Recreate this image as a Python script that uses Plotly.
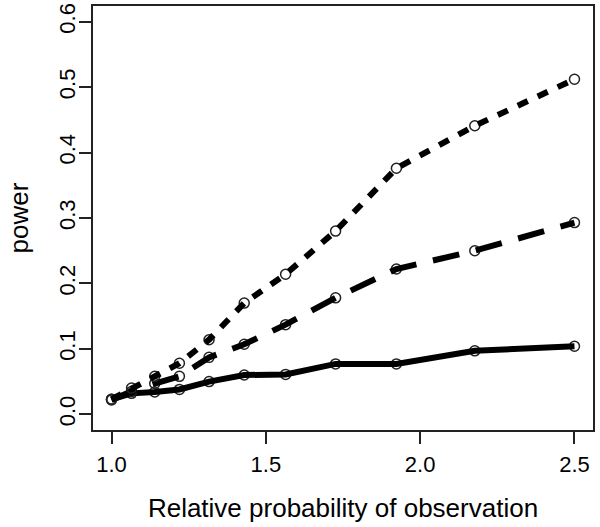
import plotly.graph_objects as go

rel_prob = [1.0, 1.065, 1.14, 1.22, 1.316, 1.43, 1.564, 1.726, 1.923, 2.177, 2.5]
power_solid = [0.023, 0.032, 0.034, 0.038, 0.05, 0.06, 0.061, 0.077, 0.077, 0.097, 0.104]
power_dashed = [0.022, 0.035, 0.047, 0.058, 0.087, 0.107, 0.137, 0.178, 0.222, 0.25, 0.293]
power_dotted = [0.023, 0.04, 0.058, 0.078, 0.114, 0.17, 0.214, 0.28, 0.376, 0.441, 0.512]

x_ticks = [1.0, 1.5, 2.0, 2.5]
x_tick_labels = ["1.0", "1.5", "2.0", "2.5"]
y_ticks = [0.0, 0.1, 0.2, 0.3, 0.4, 0.5, 0.6]
y_tick_labels = ["0.0", "0.1", "0.2", "0.3", "0.4", "0.5", "0.6"]

series = [
    (power_solid, "solid"),
    (power_dashed, "27px,17px"),
    (power_dotted, "11px,11px"),
]

fig = go.Figure()
for ys, dash in series:
    fig.add_trace(go.Scatter(
        x=rel_prob, y=ys, mode="markers",
        marker=dict(symbol="circle-open", size=10, color="#222222",
                    line=dict(width=1.5, color="#222222")),
        showlegend=False, hoverinfo="skip"))
    fig.add_trace(go.Scatter(
        x=rel_prob, y=ys, mode="lines",
        line=dict(color="black", width=6, dash=dash),
        showlegend=False, hoverinfo="skip"))

font = dict(family="Liberation Sans, Arial, sans-serif", color="black")

fig.update_layout(
    width=600, height=527,
    margin=dict(l=93, r=7, t=3, b=97),
    paper_bgcolor="white", plot_bgcolor="white",
    font=dict(family="Liberation Sans, Arial, sans-serif", color="black", size=20),
    xaxis=dict(
        range=[0.94, 2.56], tickvals=x_ticks, ticktext=x_tick_labels,
        showgrid=False, zeroline=False,
        showline=True, mirror=True, linecolor="#222222", linewidth=2,
        ticks="outside", ticklen=12, tickwidth=1.5, tickcolor="#222222",
        tickfont=dict(size=22, **font), ticklabelstandoff=2,
        title=dict(text="Relative probability of observation",
                   font=dict(size=26, **font), standoff=22),
    ),
    yaxis=dict(
        range=[-0.024, 0.624], tickvals=y_ticks, ticktext=y_tick_labels,
        showgrid=False, zeroline=False,
        showline=True, mirror=True, linecolor="#222222", linewidth=2,
        ticks="outside", ticklen=12, tickwidth=1.5, tickcolor="#222222",
        tickangle=-90,
        tickfont=dict(size=22, **font), ticklabelstandoff=-5,
        title=dict(text="power", font=dict(size=26, **font), standoff=19),
    ),
)

fig.write_html(
    "out.html",
    config={"displayModeBar": False},
    post_script="document.body.style.margin='0';document.body.style.padding='0';",
)
